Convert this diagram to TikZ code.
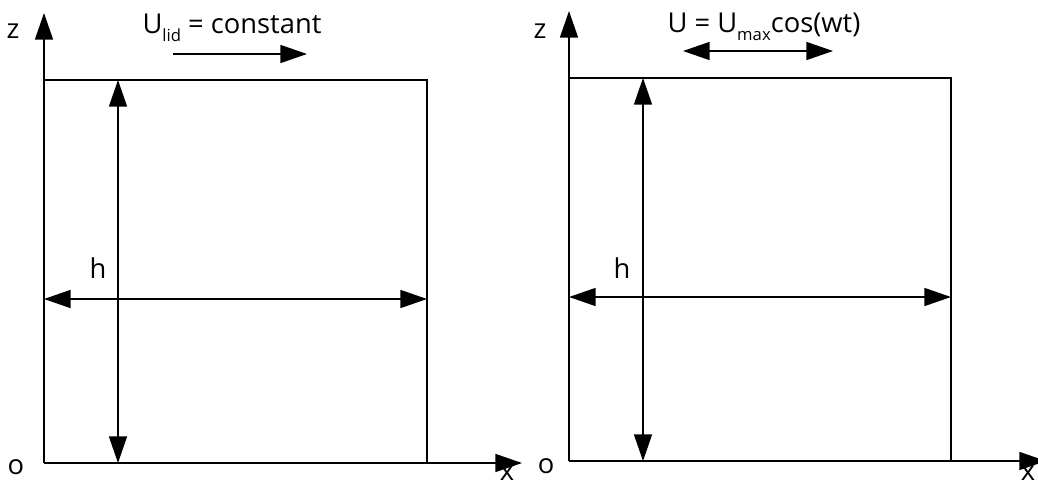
\documentclass[tikz,border=0pt]{standalone}
\usepackage{fontspec}
\setmainfont{Open Sans}
\usetikzlibrary{arrows.meta}
\tikzset{
	axe/.style={line width=1.2pt, -{Triangle[length=20pt,width=13.5pt]}},
	dim/.style={line width=1.2pt, {Triangle[length=20pt,width=13.5pt]}-{Triangle[length=20pt,width=13.5pt]}},
	wall/.style={line width=1.2pt},
	lbl/.style={font=\fontsize{20.5}{22}\selectfont, inner sep=0pt},
}
\newcommand{\lowsub}[1]{\raisebox{-0.55ex}{\fontsize{12.5}{13}\selectfont #1}}
\begin{document}
\begin{tikzpicture}[x=0.75pt,y=-0.75pt]
	\useasboundingbox (0,0) rectangle (1038,486);
	% 左图：顶盖匀速
	\coordinate (O1) at (44,463);    % 原点
	\coordinate (Z1) at (44,13);     % z轴端点
	\coordinate (X1) at (522,463);   % x轴端点
	\coordinate (TL1) at (44,80);    % 左上顶点
	\coordinate (TR1) at (427,80);   % 右上顶点
	\coordinate (BR1) at (427,463);  % 右下顶点
	\coordinate (VT1) at (118,80);
	\coordinate (VB1) at (118,463);
	\coordinate (HL1) at (44,299);
	\coordinate (HR1) at (427,299);
	\coordinate (LA1) at (173,54);
	\coordinate (LB1) at (307,54);
	\draw[axe] (O1) -- (Z1);
	\draw[axe] (O1) -- (X1);
	\draw[wall] (TL1) -- (TR1) -- (BR1);
	\draw[dim] (VT1) -- (VB1);
	\draw[dim] (HL1) -- (HR1);
	\draw[axe] (LA1) -- (LB1);
	\node[lbl] (z1) at (13,31) {z};
	\node[lbl] (o1) at (16,467) {o};
	\node[lbl] (x1) at (507,473) {x};
	\node[lbl] (h1) at (98,268) {h};
	\node[lbl, anchor=base] (u1) at (232,33) {U\lowsub{lid} = constant};
	% 右图：顶盖振荡
	\coordinate (O2) at (569,461);
	\coordinate (Z2) at (569,11);
	\coordinate (X2) at (1046,461);
	\coordinate (TL2) at (569,78);
	\coordinate (TR2) at (951,78);
	\coordinate (BR2) at (951,461);
	\coordinate (VT2) at (643,78);
	\coordinate (VB2) at (643,461);
	\coordinate (HL2) at (569,297);
	\coordinate (HR2) at (951,297);
	\coordinate (LA2) at (683,51);
	\coordinate (LB2) at (833,51);
	\draw[axe] (O2) -- (Z2);
	\draw[axe] (O2) -- (X2);
	\draw[wall] (TL2) -- (TR2) -- (BR2);
	\draw[dim] (VT2) -- (VB2);
	\draw[dim] (HL2) -- (HR2);
	\draw[dim] (LA2) -- (LB2);
	\node[lbl] (z2) at (540,31) {z};
	\node[lbl] (o2) at (546,466) {o};
	\node[lbl] (x2) at (1028,473) {x};
	\node[lbl] (h2) at (622,268) {h};
	\node[lbl, anchor=base] (u2) at (764,32) {U = U\lowsub{max}cos(wt)};
\end{tikzpicture}
\end{document}
